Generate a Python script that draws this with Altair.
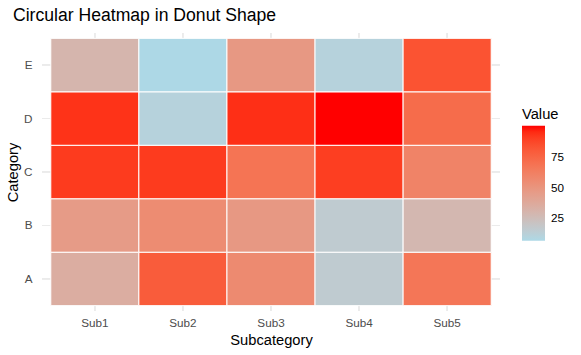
import altair as alt
import pandas as pd

categories = ["A", "B", "C", "D", "E"]
subcategories = ["Sub1", "Sub2", "Sub3", "Sub4", "Sub5"]
values_A = [35, 79, 56, 16, 67]
values_B = [46, 55, 48, 16, 29]
values_C = [91, 91, 68, 90, 60]
values_D = [93, 11, 94, 100, 72]
values_E = [30, 7, 48, 11, 83]
legend_ticks = [25, 50, 75]

rows = []
for cat, vals in zip(categories, [values_A, values_B, values_C, values_D, values_E]):
    for sub, v in zip(subcategories, vals):
        rows.append({"Category": cat, "Subcategory": sub, "Value": v})
df = pd.DataFrame(rows)

FONT = "Liberation Sans"

xenc = alt.X("Subcategory:N", sort=subcategories,
             scale=alt.Scale(paddingInner=0, paddingOuter=0.1),
             axis=alt.Axis(title="Subcategory", grid=False, ticks=False, domain=False,
                           labelAngle=0, labelFont=FONT, labelFontSize=11.7,
                           labelColor="#4D4D4D", labelPadding=6,
                           titleFont=FONT, titleFontSize=14.7, titleFontWeight="normal",
                           titleColor="black", titlePadding=4))
yenc = alt.Y("Category:N", sort=categories[::-1],
             scale=alt.Scale(paddingInner=0, paddingOuter=0.1),
             axis=alt.Axis(title="Category", grid=False, ticks=False, domain=False,
                           labelFont=FONT, labelFontSize=11.7,
                           labelColor="#4D4D4D", labelPadding=10,
                           titleFont=FONT, titleFontSize=14.7, titleFontWeight="normal",
                           titleColor="black", titlePadding=3))

base = alt.Chart(df)
vgrid = base.mark_rule(color="#EBEBEB", strokeWidth=1).encode(x=xenc)
hgrid = base.mark_rule(color="#EBEBEB", strokeWidth=1).encode(y=yenc)

tiles = base.mark_rect(stroke="white", strokeWidth=1).encode(
    x=xenc,
    y=yenc,
    color=alt.Color("Value:Q",
                    scale=alt.Scale(range=["#ADD8E6", "#FF0000"], interpolate="lab", zero=False, nice=False),
                    legend=alt.Legend(title="Value", values=legend_ticks, orient="none",
                                      legendX=480, legendY=74,
                                      gradientLength=115, gradientThickness=23,
                                      gradientStrokeWidth=0,
                                      titleFont=FONT, titleFontSize=14.7, titleFontWeight="normal",
                                      titleColor="black", titlePadding=4,
                                      labelFont=FONT, labelFontSize=11.7, labelColor="black",
                                      labelOffset=6)),
)

chart = alt.layer(vgrid, hgrid, tiles).properties(
    width=458, height=278,
    title=alt.TitleParams("Circular Heatmap in Donut Shape", anchor="start", frame="group", dx=-29,
                          font=FONT, fontSize=17.6, fontWeight="normal", color="black",
                          offset=8),
    padding={"left": 42, "top": 33, "right": 81, "bottom": 44},
    autosize="none",
    background="white",
).configure_view(stroke=None)

chart.save("out.html", embed_options={"renderer": "svg", "actions": False})
